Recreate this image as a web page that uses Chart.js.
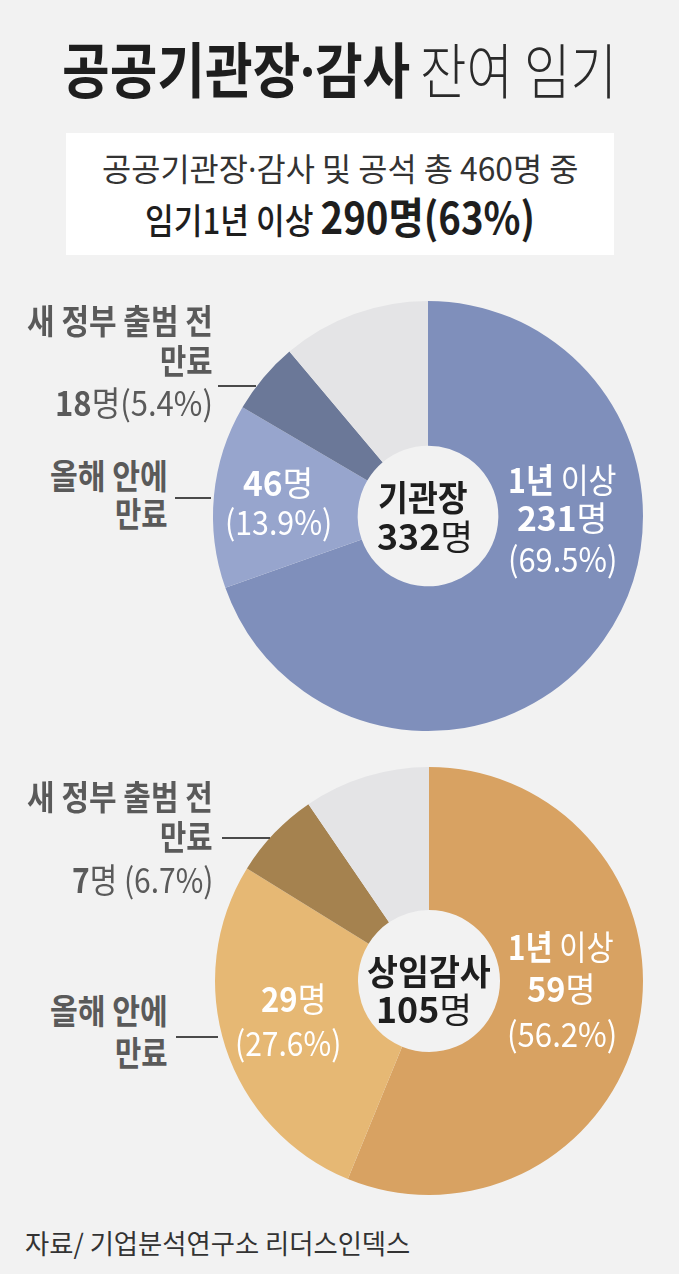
<!DOCTYPE html>
<html><head><meta charset="utf-8">
<script src="https://cdn.jsdelivr.net/npm/chart.js@4.4.1/dist/chart.umd.min.js"></script>
<style>
html,body{margin:0;padding:0;background:#f2f2f2;}
#wrap{position:relative;width:679px;height:1274px;overflow:hidden;background:#f2f2f2;font-family:"Noto Sans CJK KR","Noto Sans",sans-serif;}
.t{position:absolute;white-space:nowrap;line-height:1;transform-origin:0 50%;}
canvas{position:absolute;}
.ln{position:absolute;height:1.5px;background:#4a4a4a;}
#box{position:absolute;left:66px;top:133px;width:548px;height:122px;background:#ffffff;}
.dot{font-family:"Noto Sans","DejaVu Sans",sans-serif;}
</style></head><body><div id="wrap"><div id="box"></div>
<canvas id="c1" width="440" height="440" style="left:208px;top:296px;width:440px;height:440px"></canvas>
<canvas id="c2" width="440" height="440" style="left:209px;top:761px;width:440px;height:440px"></canvas>
</div>
<script>
// ---- data ----
const categories = ['1년 이상', '올해 안에 만료', '새 정부 출범 전 만료', '기타'];
const chiefValues = [231, 46, 18, 37];
const chiefPercents = [69.5, 13.9, 5.4];
const chiefTotal = 332;
const auditValues = [59, 29, 7, 10];
const auditPercents = [56.2, 27.6, 6.7];
const auditTotal = 105;
const summaryTotal = 460;
const summaryOver1y = 290;
const summaryPct = 63;

const chiefColors = ['#7f8fbb', '#97a5cd', '#6b7898', '#e4e4e6'];
const auditColors = ['#d8a262', '#e6b874', '#a5824f', '#e4e4e6'];

function makeChart(id, values, colors, radius, cutout){
  new Chart(document.getElementById(id), {
    type: 'doughnut',
    data: { labels: categories, datasets: [{ data: values, backgroundColor: colors, borderWidth: 0, radius: radius, cutout: cutout }] },
    options: {
      responsive: false, animation: false, events: [],
      layout: { padding: 0 },
      plugins: { legend: { display: false }, tooltip: { enabled: false } }
    }
  });
}
makeChart('c1', chiefValues, chiefColors, 215, 72);
makeChart('c2', auditValues, auditColors, 214, 73);

// ---- text ----
const wrap = document.getElementById('wrap');
function place(html, o){
  const d = document.createElement('div');
  d.className = 't';
  d.innerHTML = html;
  d.style.fontSize = o.fs + 'px';
  d.style.color = o.color || '#333';
  d.style.fontWeight = o.fw || 400;
  wrap.appendChild(d);
  const nat = d.offsetWidth, h = d.offsetHeight;
  const s = o.w ? o.w / nat : (o.sx || 1);
  const W = nat * s;
  let left = o.anchor === 'left' ? o.x : o.anchor === 'right' ? o.x - W : o.x - W / 2;
  d.style.left = left + 'px';
  d.style.top = (o.cy - h / 2 - 0.05 * o.fs) + 'px';
  d.style.transform = 'scaleX(' + s + ')';
  return d;
}
function line(x1, x2, y){
  const l = document.createElement('div');
  l.className = 'ln';
  l.style.left = x1 + 'px'; l.style.width = (x2 - x1) + 'px'; l.style.top = (y - 0.75) + 'px';
  wrap.appendChild(l);
}
const B = s => '<b style="font-weight:700">' + s + '</b>';
const R = s => '<span style="font-weight:400">' + s + '</span>';
const DOT = '<span class="dot">·</span>';

place('공공기관장' + DOT + '감사', {x:62, anchor:'left', cy:71, fs:60, fw:700, w:348, color:'#1e1e1e'});
place('잔여 임기', {x:420, anchor:'left', cy:71, fs:60, fw:300, w:197, color:'#2a2a2a'});
place('공공기관장' + DOT + '감사 및 공석 총 ' + summaryTotal + '명 중', {x:102, anchor:'left', cy:170, fs:32, w:476, color:'#333'});
place('<span style="font-weight:500;font-size:35px">임기1년 이상 </span><span style="font-weight:700;font-size:43px">' + summaryOver1y + '명(' + summaryPct + '%)</span>', {x:145, anchor:'left', cy:218, fs:42, w:390, color:'#1e1e1e'});

const grey = '#5a5a5a';
// chart 1 labels
place('새 정부 출범 전', {x:213, anchor:'right', cy:322, fs:34, fw:700, color:grey, w:186});
place('만료', {x:213, anchor:'right', cy:362, fs:34, fw:700, color:grey, w:53});
place(B(chiefValues[2]) + R('명(' + chiefPercents[2] + '%)'), {x:213, anchor:'right', cy:404, fs:34, color:grey, w:158});
line(218, 256, 386);
place('올해 안에', {x:168, anchor:'right', cy:477, fs:34, fw:700, color:grey, w:118});
place('만료', {x:168, anchor:'right', cy:515, fs:34, fw:700, color:grey, w:53});
line(175, 211, 498);

place(B(chiefValues[1]) + R('명'), {x:278, cy:484, fs:34, color:'#fff', w:70});
place('(' + chiefPercents[1] + '%)', {x:278, cy:523, fs:34, color:'#fff', w:107});
place(B('1년') + R(' 이상'), {x:562, cy:481, fs:34, color:'#fff', w:109});
place(B(chiefValues[0]) + R('명'), {x:562, cy:519, fs:34, color:'#fff', w:90});
place('(' + chiefPercents[0] + '%)', {x:562, cy:560, fs:34, color:'#fff', w:109});
place('기관장', {x:423, cy:497, fs:35, fw:700, color:'#1e1e1e', w:90});
place(B(chiefTotal) + R('명'), {x:425, cy:536, fs:35, color:'#1e1e1e', w:96});

// chart 2 labels
place('새 정부 출범 전', {x:213, anchor:'right', cy:798, fs:34, fw:700, color:grey, w:186});
place('만료', {x:213, anchor:'right', cy:838, fs:34, fw:700, color:grey, w:53});
place(B(auditValues[2]) + R('명 (' + auditPercents[2] + '%)'), {x:213, anchor:'right', cy:881, fs:34, color:grey, w:141});
line(222, 270, 838);
place('올해 안에', {x:168, anchor:'right', cy:1012, fs:34, fw:700, color:grey, w:118});
place('만료', {x:168, anchor:'right', cy:1054, fs:34, fw:700, color:grey, w:53});
line(176, 218, 1037);

place(B(auditValues[1]) + R('명'), {x:293, cy:1000, fs:34, color:'#fff', w:65});
place('(' + auditPercents[1] + '%)', {x:288, cy:1044, fs:34, color:'#fff', w:106});
place(B('1년') + R(' 이상'), {x:561, cy:948, fs:34, color:'#fff', w:106});
place(B(auditValues[0]) + R('명'), {x:561, cy:990, fs:34, color:'#fff', w:68});
place('(' + auditPercents[0] + '%)', {x:562, cy:1035, fs:34, color:'#fff', w:110});
place('상임감사', {x:429, cy:971, fs:35, fw:700, color:'#1e1e1e', w:124});
place(B(auditTotal) + R('명'), {x:424, cy:1009, fs:35, color:'#1e1e1e', w:96});

place('자료/ 기업분석연구소 리더스인덱스', {x:25, anchor:'left', cy:1244, fs:27, color:'#333', w:385});
</script></body></html>
